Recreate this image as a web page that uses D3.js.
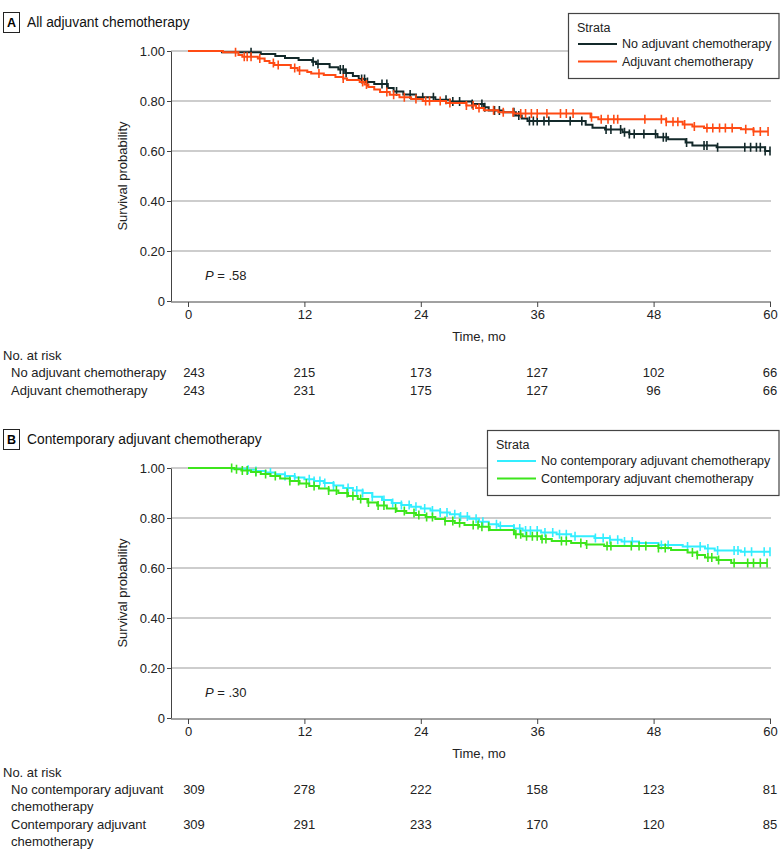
<!DOCTYPE html>
<html><head><meta charset="utf-8">
<script src="https://cdn.jsdelivr.net/npm/d3@7"></script>
<style>
body{margin:0;background:#fff;}
svg{display:block;font-family:"Liberation Sans",Arial,sans-serif;}
</style></head>
<body><svg id="c" width="780" height="863"></svg>
<script>
// ---------- DATA ----------
const xTicks = [0, 12, 24, 36, 48, 60];
const yTicks = [0, 0.2, 0.4, 0.6, 0.8, 1.0];
const yTickLabels = ["0", "0.20", "0.40", "0.60", "0.80", "1.00"];

// Panel A
const titleA = "All adjuvant chemotherapy";
const seriesNamesA = ["No adjuvant chemotherapy", "Adjuvant chemotherapy"];
const pValueA = ".58";
const riskA_no  = [243, 215, 173, 127, 102, 66];
const riskA_yes = [243, 231, 175, 127, 96, 66];

const timeA_no = [0,3.5,7.5,9.0,10.0,11.4,12.8,13.2,14.6,15.5,16.2,17.0,17.6,18.3,19.2,20.6,21.2,22.2,23.5,25.5,27.0,29.3,30.5,31.0,32.5,33.8,34.4,35.0,41.0,41.7,43.0,44.8,45.5,48.4,49.5,51.3,52.0,54.5,59.5];
const survA_no = [1,0.995,0.988,0.98,0.972,0.964,0.957,0.948,0.935,0.926,0.912,0.900,0.888,0.876,0.868,0.852,0.838,0.826,0.815,0.805,0.798,0.788,0.775,0.762,0.755,0.742,0.730,0.720,0.705,0.693,0.686,0.675,0.668,0.655,0.647,0.634,0.622,0.615,0.600];
const censA_no = [6.5,12.9,13.4,15.7,16.0,16.3,17.9,18.2,18.5,20.0,20.5,21.5,22.9,24.2,25.3,26.6,27.3,28.0,29.3,30.3,30.6,31.6,32.1,33.6,34.1,35.2,35.6,36.0,36.7,37.2,39.4,40.6,43.1,43.6,44.6,45.0,45.5,46.0,47.0,48.2,49.0,49.3,51.4,53.2,53.5,54.6,57.4,58.0,58.6,59.0,59.5,60.0];

const timeA_yes = [0,3.6,5.2,5.6,7.2,7.9,8.4,8.9,10.6,11.3,12.3,12.7,14.0,15.2,16.0,16.4,17.7,18.2,18.6,19.2,19.8,20.8,21.8,23.0,24.2,26.6,28.7,29.7,30.5,32.0,33.6,41.5,42.3,49.3,51.0,52.0,53.2,57.0,58.3];
const survA_yes = [1,0.995,0.984,0.977,0.970,0.960,0.952,0.944,0.932,0.922,0.916,0.910,0.904,0.896,0.890,0.884,0.876,0.866,0.856,0.846,0.836,0.825,0.815,0.808,0.800,0.792,0.782,0.772,0.763,0.755,0.750,0.735,0.727,0.717,0.706,0.698,0.692,0.687,0.678];
const censA_yes = [4.9,5.8,6.1,6.5,7.4,8.8,9.3,11.0,11.5,13.5,16.0,18.0,18.4,20.5,21.2,22.3,23.5,24.5,24.9,26.0,27.0,28.7,29.4,30.0,31.5,32.5,33.5,34.3,34.8,35.4,36.0,37.0,38.4,39.0,39.7,41.6,42.6,43.3,43.9,44.3,47.1,48.8,49.3,50.0,50.5,51.2,52.2,53.5,54.1,54.8,55.4,56.1,57.5,58.3,59.0,59.8];

// Panel B
const titleB = "Contemporary adjuvant chemotherapy";
const seriesNamesB = ["No contemporary adjuvant chemotherapy", "Contemporary adjuvant chemotherapy"];
const riskLabelsB = [["No contemporary adjuvant", "chemotherapy"], ["Contemporary adjuvant", "chemotherapy"]];
const pValueB = ".30";
const riskB_no  = [309, 278, 222, 158, 123, 81];
const riskB_yes = [309, 291, 233, 170, 120, 85];

const timeB_no = [0,4.5,6,7,8,9,10,11,12,13,14,15,16,17,18,19,20,21,22,23,24,25,26,27,28,29,30,31,32,33.6,34.5,36.4,38,39.5,41.9,43.5,44.7,46.5,48.5,51,53.3,54.3,57];
const survB_no = [1,0.997,0.993,0.988,0.982,0.975,0.968,0.962,0.955,0.948,0.940,0.930,0.920,0.910,0.900,0.885,0.872,0.860,0.852,0.845,0.838,0.830,0.822,0.815,0.806,0.797,0.785,0.775,0.768,0.758,0.750,0.742,0.735,0.727,0.720,0.713,0.706,0.700,0.692,0.686,0.678,0.670,0.665];
const censB_no = [6.2,7.0,8.5,10.0,11.0,12.5,13.0,13.6,14.1,15.0,16.5,17.4,18.0,19.0,20.2,21.1,22.0,22.8,23.5,24.4,25.2,26.0,26.7,27.5,28.1,28.8,29.7,30.4,31.8,32.2,33.6,34.2,34.8,35.3,36.0,36.8,37.6,38.3,39.0,39.9,42.0,42.8,43.5,44.3,45.0,45.8,48.8,49.5,51.5,52.8,53.6,54.6,56.3,56.7,57.4,58.1,59.4,60.0];

const timeB_yes = [0,4.8,5.5,6.5,7.5,8.5,9.5,10.5,11.5,12.5,13.5,14.5,15.5,16.5,17.5,18.5,19.5,20.5,21.5,22.5,23.5,24.5,25.5,26.5,27.5,28.5,30,31.1,33.6,34.5,36.4,37.5,39.5,41,42.9,48.5,49.8,51.5,52.5,53.3,54.5,56];
const survB_yes = [1,0.995,0.990,0.984,0.976,0.968,0.958,0.948,0.938,0.928,0.918,0.910,0.900,0.888,0.876,0.862,0.850,0.838,0.828,0.820,0.812,0.804,0.796,0.788,0.780,0.772,0.765,0.752,0.735,0.727,0.716,0.708,0.700,0.694,0.688,0.680,0.672,0.662,0.652,0.642,0.632,0.620];
const censB_yes = [4.5,5.0,5.6,6.1,7.0,8.0,9.0,10.5,11.4,12.2,13.0,14.5,15.3,16.4,17.0,17.8,18.6,19.6,20.2,21.4,22.3,23.3,23.8,24.6,25.2,26.5,27.3,28.0,29.4,29.9,30.3,31.0,33.8,34.3,34.9,35.5,36.0,36.5,36.9,38.5,39.0,40.5,41.1,43.2,43.6,45.7,46.5,47.2,48.5,49.2,52.0,52.5,53.6,54.0,54.7,56.3,57.7,58.3,59.0,59.7];

// ---------- DRAWING ----------
const svg = d3.select("#c");
const FS = 13;
const FS_LEG = 12.5;

function stepValue(times, surv, t){
  let v = surv[0];
  for (let i=0;i<times.length;i++){ if (times[i] <= t) v = surv[i]; }
  return v;
}

function panel(o){
  const oy = o.oy;
  const g = svg.append("g");
  const x = d3.scaleLinear().domain([0,60]).range([188,770]);
  const y = d3.scaleLinear().domain([0,1]).range([oy+301, oy+51]);

  // panel letter + title
  g.append("rect").attr("x",3.5).attr("y",oy+12.5).attr("width",16).attr("height",20)
    .attr("fill","none").attr("stroke","#222").attr("stroke-width",1);
  g.append("text").attr("x",11.5).attr("y",oy+22.5).attr("text-anchor","middle").attr("dominant-baseline","central")
    .attr("font-weight","bold").attr("font-size",12.5).text(o.letter);
  g.append("text").attr("x",27).attr("y",oy+22.5).attr("dominant-baseline","central").attr("font-size",13.8)
    .attr("fill","#111").text(o.title);

  // gridlines
  g.selectAll("line.grid").data(yTicks.filter(d=>d>0)).join("line")
    .attr("x1",171).attr("x2",771).attr("y1",d=>y(d)).attr("y2",d=>y(d))
    .attr("stroke","#bdbdbd").attr("stroke-width",1.5);

  // y axis
  const ya = g.append("g").attr("transform","translate(171,0)")
    .call(d3.axisLeft(y).tickValues(yTicks).tickFormat((d,i)=>yTickLabels[i]).tickSize(4).tickSizeOuter(0));
  ya.select(".domain").attr("stroke","#444");
  ya.selectAll(".tick line").attr("stroke","#444");
  ya.selectAll(".tick text").attr("font-size",FS).attr("font-family",null).attr("fill","#222").attr("x",-6);

  // x axis
  const xa = g.append("g").attr("transform",`translate(0,${oy+302})`)
    .call(d3.axisBottom(x).tickValues(xTicks).tickSize(5).tickSizeOuter(0));
  xa.select(".domain").remove();
  xa.selectAll(".tick line").attr("stroke","#444");
  xa.selectAll(".tick text").attr("font-size",FS).attr("font-family",null).attr("fill","#222").attr("y",8);
  g.append("line").attr("x1",171).attr("x2",771).attr("y1",oy+302).attr("y2",oy+302).attr("stroke","#444");

  // axis titles
  g.append("text").attr("transform",`translate(122,${oy+176}) rotate(-90)`).attr("text-anchor","middle")
    .attr("dominant-baseline","central").attr("font-size",FS).attr("fill","#222").text("Survival probability");
  g.append("text").attr("x",479).attr("y",oy+336).attr("text-anchor","middle").attr("dominant-baseline","central")
    .attr("font-size",FS).attr("fill","#222").text("Time, mo");

  // P value
  const pt = g.append("text").attr("x",205).attr("y",oy+275).attr("dominant-baseline","central").attr("font-size",FS).attr("fill","#222");
  pt.append("tspan").attr("font-style","italic").text("P");
  pt.append("tspan").text(" = " + o.p);

  // curves
  const line = d3.line().x(d=>x(d[0])).y(d=>y(d[1])).curve(d3.curveStepAfter);
  o.series.forEach(s=>{
    const pts = s.times.map((t,i)=>[t, s.surv[i]]);
    const tEnd = Math.max(d3.max(s.cens), d3.max(s.times));
    pts.push([tEnd, s.surv[s.surv.length-1]]);
    g.append("path").datum(pts).attr("d",line).attr("fill","none")
      .attr("stroke",s.color).attr("stroke-width",2);
    g.selectAll(null).data(s.cens).join("line")
      .attr("x1",d=>x(d)).attr("x2",d=>x(d))
      .attr("y1",d=>y(stepValue(s.times,s.surv,d))-4.5).attr("y2",d=>y(stepValue(s.times,s.surv,d))+4.5)
      .attr("stroke",s.color).attr("stroke-width",1.6);
  });

  // legend
  const lg = g.append("g");
  lg.append("rect").attr("x",o.legX+0.5).attr("y",oy+13.5).attr("width",778.5-o.legX).attr("height",65)
    .attr("fill","#fff").attr("stroke","#444").attr("stroke-width",1.2);
  lg.append("text").attr("x",o.legX+9).attr("y",oy+28).attr("dominant-baseline","central").attr("font-size",FS_LEG).attr("fill","#222").text("Strata");
  o.series.forEach((s,i)=>{
    const yy = oy+44+i*17.5;
    lg.append("line").attr("x1",o.legX+10).attr("x2",o.legX+49).attr("y1",yy).attr("y2",yy)
      .attr("stroke",s.color).attr("stroke-width",2);
    lg.append("text").attr("x",o.legX+54).attr("y",yy).attr("dominant-baseline","central").attr("font-size",FS_LEG)
      .attr("fill","#222").text(s.name);
  });

  // risk table
  g.append("text").attr("x",3).attr("y",oy+355).attr("dominant-baseline","central").attr("font-size",FS).attr("fill","#222").text("No. at risk");
  o.risk.forEach((r,i)=>{
    const yy = oy+372 + i*o.rowGap;
    const lab = g.append("text").attr("x",11).attr("y",yy).attr("dominant-baseline","central").attr("font-size",FS).attr("fill","#222");
    r.label.forEach((l,j)=>{ lab.append("tspan").attr("x",11).attr("dy", j===0?0:17).text(l); });
    g.selectAll(null).data(r.values).join("text")
      .attr("x",(d,k)=>x(xTicks[k]) + (k===0?6:0)).attr("y",yy).attr("text-anchor","middle")
      .attr("dominant-baseline","central").attr("font-size",FS).attr("fill","#222").text(d=>d);
  });
}

panel({
  oy:0, letter:"A", title:titleA, p:pValueA, legX:568,
  series:[
    {name:seriesNamesA[0], times:timeA_no, surv:survA_no, cens:censA_no, color:"#13292a"},
    {name:seriesNamesA[1], times:timeA_yes, surv:survA_yes, cens:censA_yes, color:"#ff4b14"}
  ],
  risk:[{label:[seriesNamesA[0]], values:riskA_no},{label:[seriesNamesA[1]], values:riskA_yes}],
  rowGap:18
});
panel({
  oy:417, letter:"B", title:titleB, p:pValueB, legX:487,
  series:[
    {name:seriesNamesB[0], times:timeB_no, surv:survB_no, cens:censB_no, color:"#33eeff"},
    {name:seriesNamesB[1], times:timeB_yes, surv:survB_yes, cens:censB_yes, color:"#3de51c"}
  ],
  risk:[{label:riskLabelsB[0], values:riskB_no},{label:riskLabelsB[1], values:riskB_yes}],
  rowGap:35
});
</script></body></html>
